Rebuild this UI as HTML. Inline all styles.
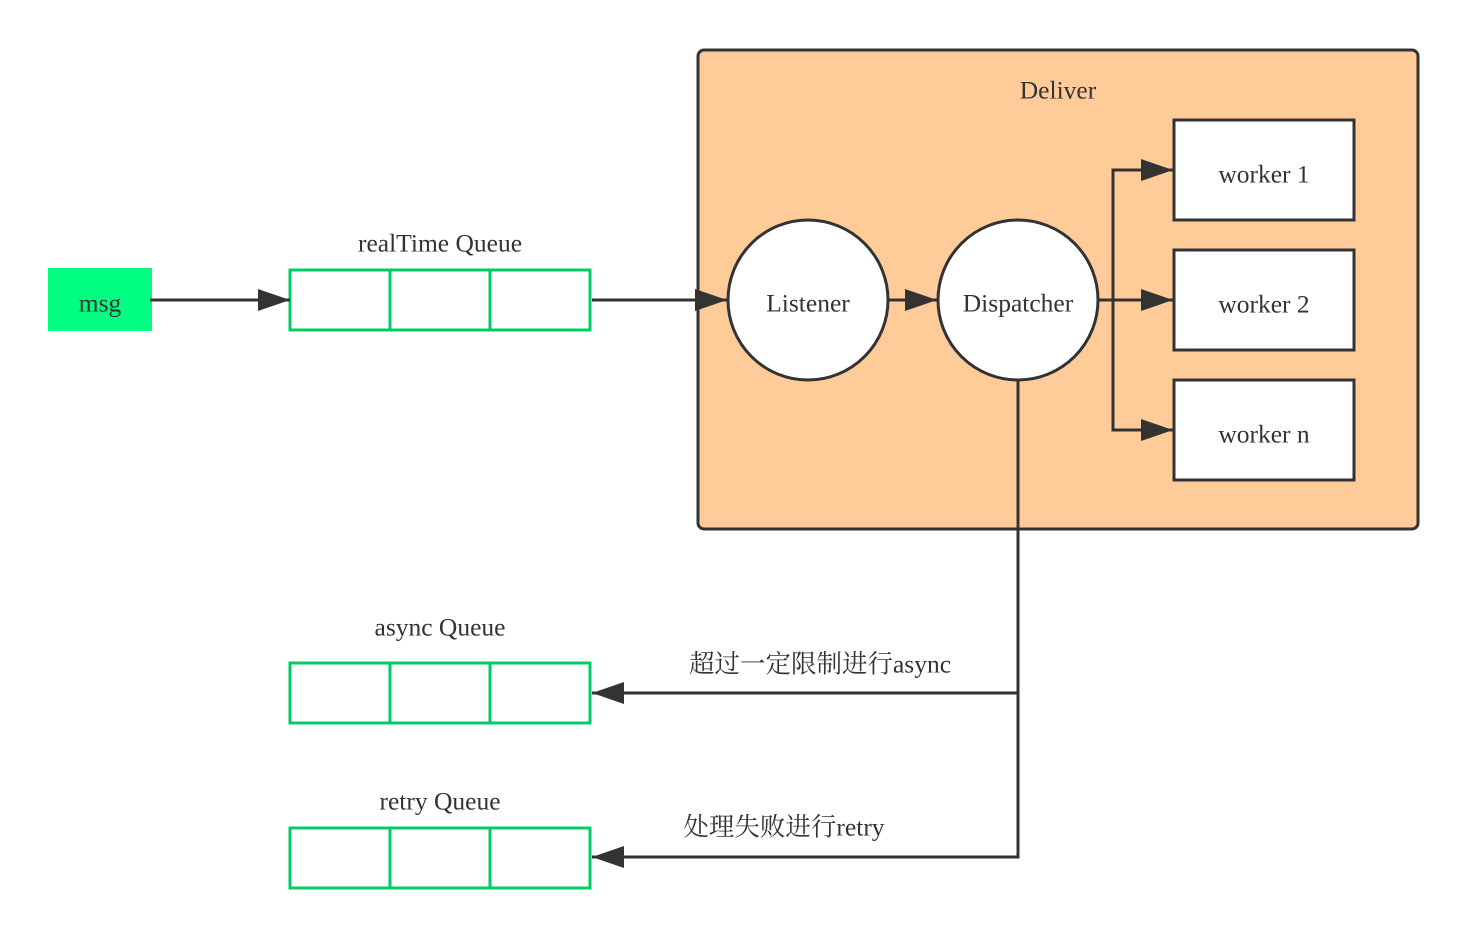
<!DOCTYPE html>
<html><head><meta charset="utf-8"><style>body{margin:0;background:#fff}svg{display:block}text{font-family:"Liberation Serif","Noto Serif CJK SC","Noto Sans CJK SC",serif;fill:#333;font-size:25.5px;text-anchor:middle;dominant-baseline:central}</style></head><body>
<svg width="1468" height="938" viewBox="0 0 1468 938">
<defs><marker id="b" markerWidth="32" markerHeight="22" refX="32" refY="11" orient="auto" markerUnits="userSpaceOnUse"><path d="M0,0 L32,11 L0,22z" fill="#333"/></marker></defs>
<rect x="698" y="50" width="720" height="479" rx="6" fill="#ffcc99" stroke="#333" stroke-width="3"/>
<text x="1058" y="90">Deliver</text>
<rect x="48" y="268" width="104" height="63" fill="#00ff80"/>
<text x="100" y="303">msg</text>
<g fill="#fff" stroke="#00cc66" stroke-width="3">
<rect x="290" y="270" width="300" height="60"/><path d="M390,270V330M490,270V330"/>
<rect x="290" y="663" width="300" height="60"/><path d="M390,663V723M490,663V723"/>
<rect x="290" y="828" width="300" height="60"/><path d="M390,828V888M490,828V888"/>
</g>
<text x="440" y="243">realTime Queue</text>
<text x="440" y="627">async Queue</text>
<text x="440" y="801">retry Queue</text>
<g stroke="#333" stroke-width="3" fill="none">
<path d="M150,300H290" marker-end="url(#b)"/>
<path d="M592,300H727" marker-end="url(#b)"/>
<path d="M888,300H937" marker-end="url(#b)"/>
<path d="M1098,300H1173" marker-end="url(#b)"/>
<path d="M1113,300V170H1173" marker-end="url(#b)"/>
<path d="M1113,300V430H1173" marker-end="url(#b)"/>
<path d="M1018,380V857H592" marker-end="url(#b)"/>
<path d="M1018,693H592" marker-end="url(#b)"/>
</g>
<g fill="#fff" stroke="#333" stroke-width="3">
<circle cx="808" cy="300" r="80"/><circle cx="1018" cy="300" r="80"/>
<rect x="1174" y="120" width="180" height="100"/>
<rect x="1174" y="250" width="180" height="100"/>
<rect x="1174" y="380" width="180" height="100"/>
</g>
<text x="808" y="303">Listener</text>
<text x="1018" y="303">Dispatcher</text>
<text x="1264" y="174">worker 1</text>
<text x="1264" y="304">worker 2</text>
<text x="1264" y="434">worker n</text>
<text x="820" y="664">超过一定限制进行async</text>
<text x="784" y="827">处理失败进行retry</text>
</svg></body></html>
